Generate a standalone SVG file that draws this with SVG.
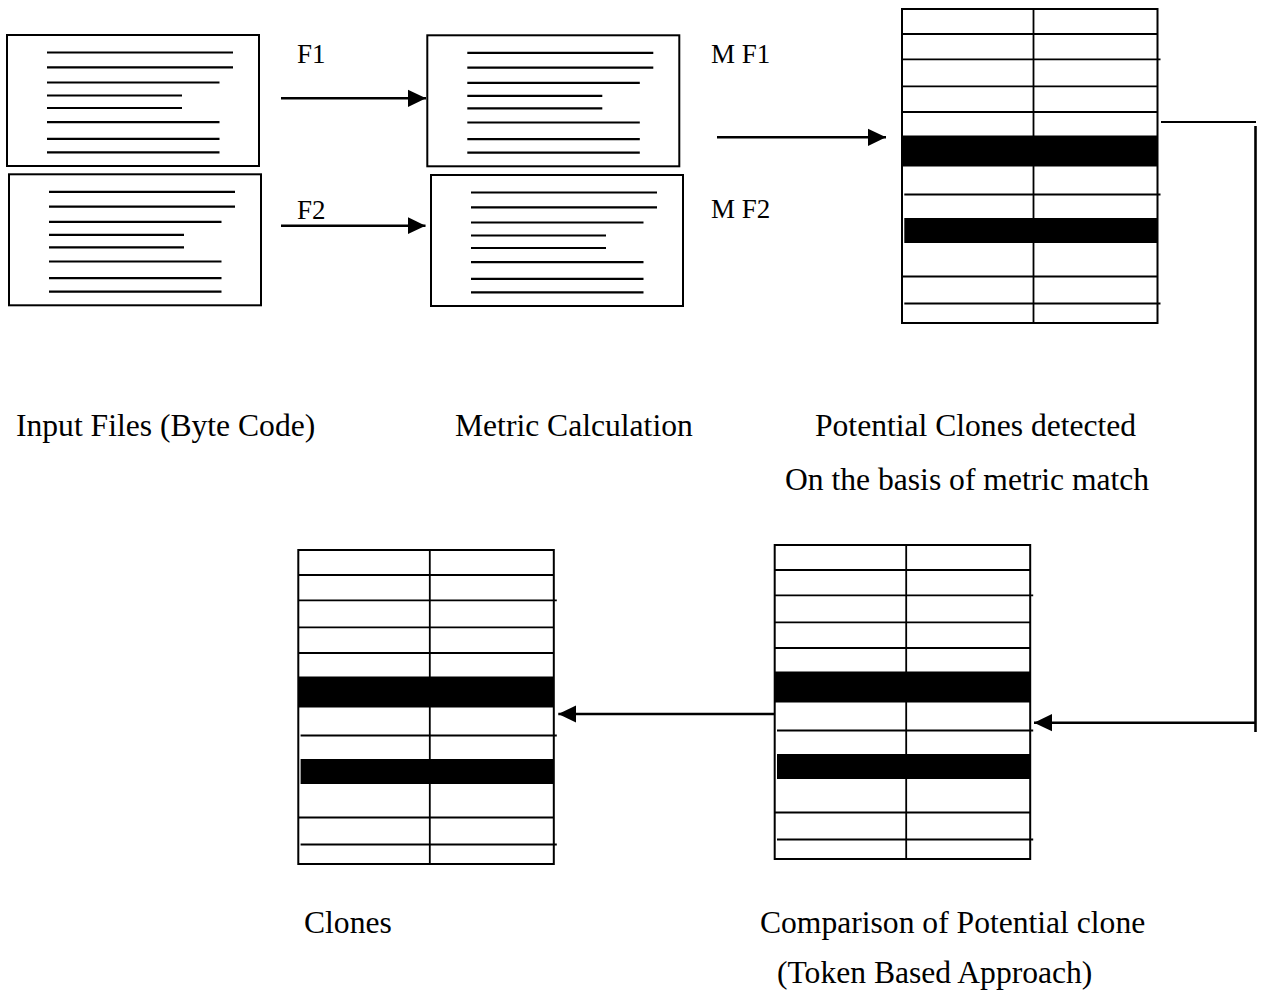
<svg xmlns="http://www.w3.org/2000/svg" xmlns:xlink="http://www.w3.org/1999/xlink" width="1262" height="996" viewBox="0 0 1262 996">
  <style>
    .frame { fill: #fff; stroke: #000; stroke-width: 2; }
    .rule { stroke: #000; stroke-width: 2.2; fill: none; }
    .grid { stroke: #000; stroke-width: 1.8; fill: none; }
    .band { fill: #000; }
    .wire { stroke: #000; stroke-width: 2.6; fill: none; }
    .label { font-family: "Liberation Serif", "Times New Roman", serif; font-size: 31.6px; fill: #000; }
    .tag { font-family: "Liberation Serif", "Times New Roman", serif; font-size: 27px; fill: #000; }
  </style>
  <defs>
    <marker id="head" markerUnits="userSpaceOnUse" markerWidth="18" markerHeight="18" viewBox="0 0 16 16" refX="16" refY="8" orient="auto">
      <path d="M0,0.3 L16,8 L0,15.7 Z" fill="#000"/>
    </marker>
    <!-- a text file: framed page with ruled lines -->
    <g id="page">
      <rect class="frame" x="0" y="0" width="252" height="131"/>
      <path class="rule" d="M40,17.5H226 M40,32.3H226 M40,47.5H212.5 M40,60.5H175 M40,73H175 M40,87.2H212.5 M40,103.8H212.5 M40,117.4H212.5"/>
    </g>
    <!-- a two-column metric table with two highlighted rows -->
    <g id="sheet">
      <rect class="frame" x="0" y="0" width="255.5" height="314"/>
      <path class="grid" d="M131.5,0V314 M0,25H255.5 M0,50.3H258.5 M0,77.3H255.5 M0,103H255.5 M2.3,185.5H258.5 M0,267.5H255.5 M2.3,294.5H258.5"/>
      <rect class="band" x="0" y="126.5" width="255.5" height="31"/>
      <rect class="band" x="2.3" y="209" width="253.2" height="25"/>
    </g>
  </defs>

  <rect width="1262" height="996" fill="#fff"/>

  <g id="input-file-1"><use xlink:href="#page" x="7" y="35"/></g>
  <g id="input-file-2"><use xlink:href="#page" x="9" y="174.3"/></g>
  <g id="metric-file-1"><use xlink:href="#page" x="427.3" y="35.3"/></g>
  <g id="metric-file-2"><use xlink:href="#page" x="431" y="175"/></g>

  <g id="potential-clones"><use xlink:href="#sheet" x="902" y="9"/></g>
  <g id="comparison"><use xlink:href="#sheet" x="774.7" y="545"/></g>
  <g id="clones"><use xlink:href="#sheet" x="298.3" y="550"/></g>

  <g id="connectors">
    <line class="wire" x1="281" y1="98.3" x2="426" y2="98.3" marker-end="url(#head)"/>
    <line class="wire" x1="281" y1="225.7" x2="425.5" y2="225.7" marker-end="url(#head)"/>
    <line class="wire" x1="717" y1="137.3" x2="886" y2="137.3" marker-end="url(#head)"/>
    <line class="wire" x1="1161" y1="122" x2="1256" y2="122" style="stroke-width:2"/>
    <line class="wire" x1="1255.5" y1="126" x2="1255.5" y2="732"/>
    <line class="wire" x1="1255.5" y1="722.7" x2="1034" y2="722.7" marker-end="url(#head)"/>
    <line class="wire" x1="774" y1="714" x2="558.3" y2="714" marker-end="url(#head)"/>
  </g>

  <g id="labels">
    <text class="tag" x="297" y="62.7">F1</text>
    <text class="tag" x="297" y="219">F2</text>
    <text class="tag" x="711" y="62.5">M F1</text>
    <text class="tag" x="711" y="218">M F2</text>
    <text class="label" x="16" y="436">Input Files (Byte Code)</text>
    <text class="label" x="455" y="436">Metric Calculation</text>
    <text class="label" x="815" y="436">Potential Clones detected</text>
    <text class="label" x="785" y="490">On the basis of metric match</text>
    <text class="label" x="304" y="933">Clones</text>
    <text class="label" x="760" y="933">Comparison of Potential clone</text>
    <text class="label" x="777" y="983">(Token Based Approach)</text>
  </g>
</svg>
